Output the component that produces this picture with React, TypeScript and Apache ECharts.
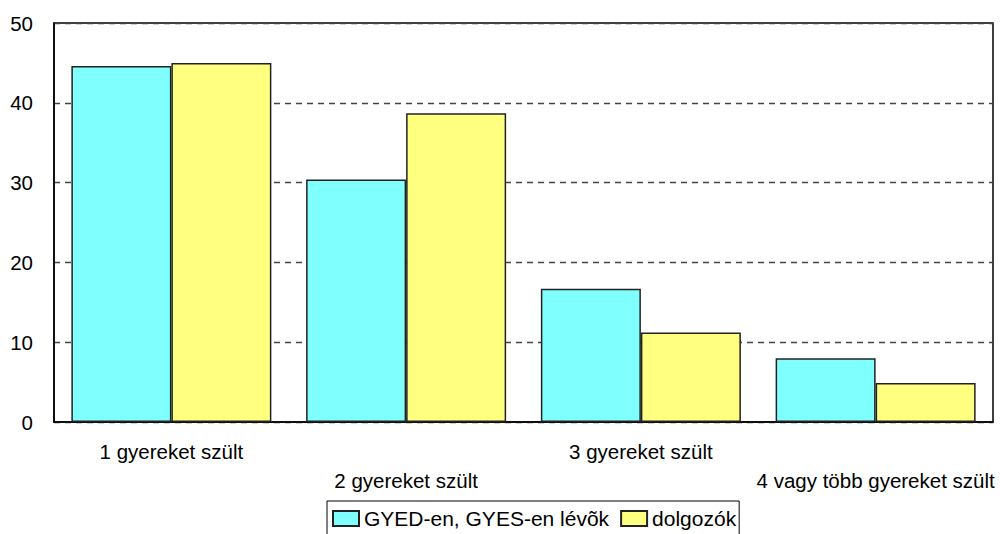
import React, { useEffect, useRef } from "react";
import * as echarts from "echarts";

const categories = ["1 gyereket szült", "2 gyereket szült", "3 gyereket szült", "4 vagy több gyereket szült"];
const seriesNames = ["GYED-en, GYES-en lévõk", "dolgozók"];
const gyedValues = [44.6, 30.4, 16.7, 8.0];
const dolgozoValues = [45.0, 38.7, 11.2, 4.9];
const yTicks = { min: 0, max: 50, interval: 10 };

export default function App() {
  const ref = useRef<HTMLDivElement>(null);
  useEffect(() => {
    document.body.style.margin = "0";
    const chart = echarts.init(ref.current!, null, { renderer: "svg" });
    const font = "'Liberation Sans', Arial, sans-serif";
    chart.setOption({
      animation: false,
      backgroundColor: "#ffffff",
      grid: {
        left: 54,
        right: 7,
        top: 23,
        bottom: 112,
        show: true,
        borderColor: "#000",
        borderWidth: 1.5,
        backgroundColor: "transparent",
      },
      legend: {
        left: 327,
        top: 501,
        itemWidth: 26,
        itemHeight: 15,
        itemGap: 11,
        padding: [7, 3, 7, 5],
        borderColor: "#000",
        borderWidth: 1,
        icon: "rect",
        textStyle: { fontSize: 21, color: "#000", fontFamily: font },
        data: seriesNames,
      },
      xAxis: {
        type: "category",
        data: categories,
        axisLine: { show: true, lineStyle: { color: "#000", width: 1.5 } },
        axisTick: { show: false },
        axisLabel: {
          interval: 0,
          margin: 19,
          color: "#000",
          fontSize: 20.5,
          fontFamily: font,
          formatter: (v: string, i: number) => (i % 2 ? `{b|${v}}` : `{a|${v}}`),
          rich: {
            a: { fontSize: 20.5, fontFamily: font, color: "#000" },
            b: { fontSize: 20.5, fontFamily: font, color: "#000", padding: [29, 0, 0, 0] },
          },
        },
      },
      yAxis: {
        type: "value",
        min: yTicks.min,
        max: yTicks.max,
        interval: yTicks.interval,
        axisLine: { show: true, lineStyle: { color: "#000", width: 1.5 } },
        axisTick: { show: false },
        axisLabel: { color: "#000", fontSize: 20.5, fontFamily: font, margin: 21 },
        splitLine: { show: true, lineStyle: { color: "#444", type: [6, 5], width: 1.3 } },
      },
      series: [
        {
          name: seriesNames[0],
          type: "bar",
          data: gyedValues,
          barGap: "0%",
          barCategoryGap: "14.8%",
          itemStyle: { color: "#80FFFF", borderColor: "#222", borderWidth: 1.5 },
        },
        {
          name: seriesNames[1],
          type: "bar",
          data: dolgozoValues,
          barGap: "0%",
          barCategoryGap: "14.8%",
          itemStyle: { color: "#FFFF80", borderColor: "#222", borderWidth: 1.5 },
        },
      ],
    });
    return () => chart.dispose();
  }, []);
  return <div ref={ref} style={{ width: 1000, height: 534 }} />;
}
